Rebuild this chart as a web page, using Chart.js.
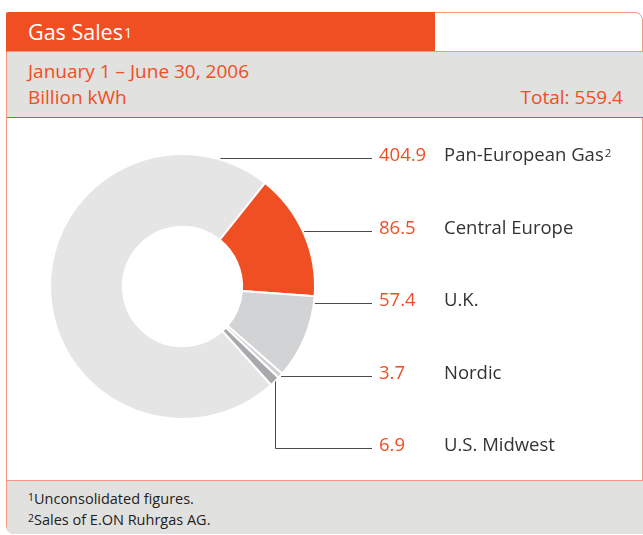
<!DOCTYPE html>
<html>
<head>
<meta charset="utf-8">
<script src="https://cdn.jsdelivr.net/npm/chart.js@4"></script>
<style>
  html, body { margin: 0; padding: 0; background: #fff; }
  body { width: 643px; height: 535px; position: relative; overflow: hidden; font-family: "Open Sans", sans-serif; }
  #frame { position: absolute; left: 6px; top: 12px; width: 637px; height: 522px; box-sizing: border-box;
           border: 1.5px solid #f39a80; border-radius: 8px; }
  #head { position: absolute; left: 6px; top: 12px; width: 429px; height: 40px; background: #f04e23; border-radius: 2px 0 0 0; }
  #head span { position: absolute; left: 22px; top: 5px; color: #fff; font-size: 21.5px; }
  #head sup { font-size: 0.66em; vertical-align: 0.12em; margin-left: 1px; line-height: 0; }
  sup { font-size: 0.62em; vertical-align: 0.35em; line-height: 0; margin-left: 1px; }
  #band { position: absolute; left: 7px; top: 51px; width: 636px; height: 65px; background: #e1e1df;
          border-top: 1px solid #f39a80; border-bottom: 1.5px solid #f04e23; color: #f04e23; font-size: 19px; }
  #band .l1 { position: absolute; left: 21px; top: 6px; }
  #band .l2 { position: absolute; left: 21px; top: 32px; }
  #band .tot { position: absolute; right: 20px; top: 32px; }
  #foot { position: absolute; left: 7px; top: 480px; width: 636px; height: 52.5px; background: #e1e1df;
          border-top: 1px solid #f39a80; border-radius: 0 0 0 7px; font-size: 14.5px; color: #222; }
  #foot div { position: absolute; left: 21px; }
  #foot sup { font-size: 0.72em; vertical-align: 0.25em; margin: 0; }
  #chartWrap { position: absolute; left: 0; top: 118px; width: 643px; height: 362px; }
  .lab { position: absolute; font-size: 18.5px; line-height: 24px; white-space: nowrap; }
  .val { left: 379px; color: #f04e23; }
  .name { left: 444px; color: #333; }
</style>
</head>
<body>
<div id="frame"></div>
<div id="head"><span>Gas Sales<sup>1</sup></span></div>
<div id="band">
  <div class="l1">January 1 – June 30, 2006</div>
  <div class="l2">Billion kWh</div>
  <div class="tot">Total: 559.4</div>
</div>
<div id="chartWrap"><canvas id="gasChart" width="643" height="362"></canvas></div>
<div id="labels"></div>
<div id="foot">
  <div style="top:8px"><sup>1</sup>Unconsolidated figures.</div>
  <div style="top:29px"><sup>2</sup>Sales of E.ON Ruhrgas AG.</div>
</div>
<script>
const regions = ['Pan-European Gas', 'Central Europe', 'U.K.', 'Nordic', 'U.S. Midwest'];
const regionNotes = ['2', '', '', '', ''];
const sales = [404.9, 86.5, 57.4, 3.7, 6.9];
const sliceColors = ['#e5e5e6', '#f04e23', '#d2d3d5', '#cfd0d2', '#a8a9ac'];

// label rows (page y of leader line) and where the lines stop
const rowY = [158, 231, 303, 376, 448];
const lineEndX = 372;
const canvasTop = 118;

const labelBox = document.getElementById('labels');
regions.forEach((name, i) => {
    const top = rowY[i] - 16;
    const v = document.createElement('div');
    v.className = 'lab val';
    v.style.top = top + 'px';
    v.textContent = sales[i].toFixed(1);
    labelBox.appendChild(v);
    const n = document.createElement('div');
    n.className = 'lab name';
    n.style.top = top + 'px';
    n.innerHTML = name + (regionNotes[i] ? '<sup>' + regionNotes[i] + '</sup>' : '');
    labelBox.appendChild(n);
});

const leaderLines = {
    id: 'leaderLines',
    afterDraw(chart) {
        const ctx = chart.ctx;
        const arcs = chart.getDatasetMeta(0).data;
        ctx.save();
        ctx.strokeStyle = '#4a4a4a';
        ctx.lineWidth = 1;
        arcs.forEach((arc, i) => {
            const R = arc.outerRadius + 1;
            const y = rowY[i] - canvasTop + 0.5;
            ctx.beginPath();
            if (i === arcs.length - 1) {
                // elbow: from the slice middle straight down, then right
                const mid = (arc.startAngle + arc.endAngle) / 2;
                const px = Math.round(arc.x + Math.cos(mid) * (R - 1)) + 0.5;
                const py = arc.y + Math.sin(mid) * (R - 1);
                ctx.moveTo(px, py);
                ctx.lineTo(px, y);
                ctx.lineTo(lineEndX, y);
            } else {
                const dy = y - arc.y;
                const px = arc.x + Math.sqrt(Math.max(R * R - dy * dy, 0));
                ctx.moveTo(px, y);
                ctx.lineTo(lineEndX, y);
            }
            ctx.stroke();
        });
        ctx.restore();
    }
};

new Chart(document.getElementById('gasChart'), {
    type: 'doughnut',
    data: {
        labels: regions,
        datasets: [{
            data: sales,
            backgroundColor: sliceColors,
            borderColor: '#ffffff',
            borderWidth: 2,
            hoverOffset: 0
        }]
    },
    options: {
        responsive: false,
        animation: false,
        rotation: 138,
        cutout: '45%',
        layout: { padding: { left: 49, right: 327, top: 35, bottom: 60 } },
        plugins: { legend: { display: false }, tooltip: { enabled: false } }
    },
    plugins: [leaderLines]
});
</script>
</body>
</html>
